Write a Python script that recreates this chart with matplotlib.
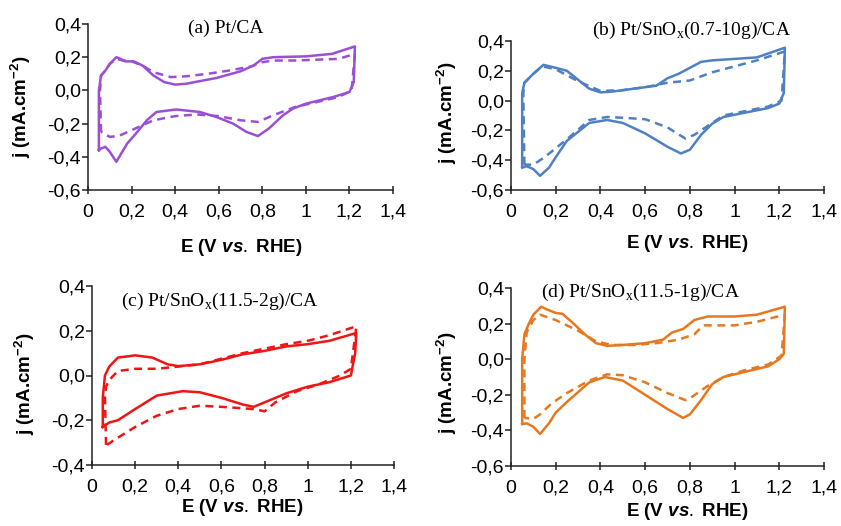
import numpy as np
import matplotlib
matplotlib.use("Agg")
import matplotlib.pyplot as plt
from matplotlib.ticker import FuncFormatter, MultipleLocator

plt.rcParams['font.family'] = 'Liberation Sans'
plt.rcParams['mathtext.fontset'] = 'custom'
plt.rcParams['mathtext.rm'] = 'Liberation Serif'
plt.rcParams['mathtext.sf'] = 'Liberation Sans:bold'
plt.rcParams['mathtext.it'] = 'Liberation Sans:italic:bold'

# (a) Pt/CA  -- anodic sweep then cathodic sweep
a_E_fwd = [0.05, 0.05, 0.06, 0.08, 0.10, 0.13, 0.15, 0.17, 0.21, 0.25, 0.30, 0.35, 0.40, 0.45, 0.59, 0.70, 0.76, 0.80, 0.85, 1.00, 1.12, 1.225]
a_j_fwd = [-0.36, 0.00, 0.09, 0.12, 0.16, 0.20, 0.19, 0.175, 0.175, 0.15, 0.09, 0.05, 0.035, 0.04, 0.075, 0.115, 0.15, 0.19, 0.20, 0.205, 0.22, 0.265]
a_E_rev = [1.225, 1.22, 1.20, 1.125, 1.00, 0.94, 0.895, 0.83, 0.78, 0.727, 0.666, 0.589, 0.513, 0.405, 0.314, 0.27, 0.22, 0.18, 0.13, 0.10, 0.08, 0.06, 0.05]
a_j_rev = [0.265, 0.05, -0.01, -0.04, -0.08, -0.11, -0.15, -0.23, -0.275, -0.25, -0.20, -0.16, -0.13, -0.115, -0.13, -0.18, -0.26, -0.32, -0.43, -0.37, -0.34, -0.35, -0.36]
a_E_fwd2 = [0.06, 0.055, 0.06, 0.08, 0.10, 0.13, 0.16, 0.20, 0.25, 0.30, 0.38, 0.45, 0.55, 0.65, 0.75, 0.80, 0.85, 0.95, 1.05, 1.15, 1.225]
a_j_fwd2 = [-0.25, 0.00, 0.09, 0.12, 0.16, 0.19, 0.18, 0.175, 0.15, 0.11, 0.08, 0.085, 0.10, 0.12, 0.145, 0.17, 0.18, 0.18, 0.185, 0.19, 0.22]
a_E_rev2 = [1.225, 1.21, 1.15, 1.05, 0.95, 0.85, 0.78, 0.70, 0.60, 0.50, 0.40, 0.30, 0.20, 0.14, 0.10, 0.07, 0.06]
a_j_rev2 = [0.22, 0.00, -0.04, -0.07, -0.10, -0.15, -0.19, -0.18, -0.155, -0.145, -0.155, -0.18, -0.24, -0.275, -0.28, -0.26, -0.25]

# (b) Pt/SnOx(0.7-10g)/CA
b_E_fwd = [0.05, 0.05, 0.06, 0.10, 0.145, 0.20, 0.25, 0.30, 0.35, 0.40, 0.45, 0.55, 0.65, 0.70, 0.75, 0.80, 0.85, 0.90, 1.00, 1.10, 1.225]
b_j_fwd = [-0.44, 0.05, 0.12, 0.18, 0.24, 0.22, 0.20, 0.14, 0.08, 0.055, 0.06, 0.08, 0.10, 0.15, 0.18, 0.22, 0.26, 0.27, 0.28, 0.29, 0.355]
b_E_rev = [1.225, 1.22, 1.20, 1.15, 1.05, 0.95, 0.90, 0.85, 0.80, 0.76, 0.70, 0.60, 0.50, 0.43, 0.35, 0.25, 0.20, 0.17, 0.13, 0.10, 0.07, 0.05]
b_j_rev = [0.355, 0.05, -0.02, -0.05, -0.08, -0.11, -0.155, -0.23, -0.33, -0.355, -0.31, -0.22, -0.15, -0.13, -0.15, -0.27, -0.38, -0.45, -0.505, -0.46, -0.44, -0.45]
b_E_fwd2 = [0.06, 0.055, 0.06, 0.10, 0.14, 0.20, 0.30, 0.40, 0.50, 0.60, 0.70, 0.80, 0.90, 1.00, 1.10, 1.225]
b_j_fwd2 = [-0.43, 0.05, 0.12, 0.18, 0.23, 0.21, 0.13, 0.065, 0.07, 0.09, 0.12, 0.135, 0.19, 0.23, 0.27, 0.33]
b_E_rev2 = [1.225, 1.21, 1.15, 1.05, 0.95, 0.88, 0.82, 0.78, 0.70, 0.60, 0.50, 0.43, 0.35, 0.25, 0.15, 0.10, 0.06]
b_j_rev2 = [0.33, 0.00, -0.04, -0.07, -0.10, -0.17, -0.23, -0.255, -0.18, -0.125, -0.115, -0.11, -0.13, -0.26, -0.38, -0.43, -0.43]

# (c) Pt/SnOx(11.5-2g)/CA
c_E_fwd = [0.05, 0.05, 0.06, 0.08, 0.12, 0.20, 0.28, 0.35, 0.40, 0.50, 0.60, 0.70, 0.80, 0.90, 1.00, 1.10, 1.225]
c_j_fwd = [-0.23, -0.10, 0.00, 0.04, 0.08, 0.09, 0.08, 0.05, 0.042, 0.05, 0.07, 0.095, 0.11, 0.13, 0.14, 0.155, 0.19]
c_E_rev = [1.225, 1.22, 1.20, 1.10, 1.00, 0.90, 0.80, 0.75, 0.70, 0.60, 0.50, 0.42, 0.30, 0.20, 0.12, 0.08, 0.05]
c_j_rev = [0.19, 0.10, 0.00, -0.03, -0.05, -0.08, -0.12, -0.14, -0.13, -0.10, -0.075, -0.07, -0.09, -0.15, -0.20, -0.21, -0.23]
c_E_fwd2 = [0.065, 0.06, 0.065, 0.08, 0.12, 0.20, 0.30, 0.40, 0.50, 0.60, 0.70, 0.80, 0.90, 1.00, 1.10, 1.225]
c_j_fwd2 = [-0.31, -0.10, -0.05, -0.02, 0.02, 0.03, 0.03, 0.04, 0.05, 0.075, 0.10, 0.12, 0.14, 0.155, 0.18, 0.22]
c_E_rev2 = [1.225, 1.20, 1.15, 1.05, 0.95, 0.85, 0.80, 0.75, 0.60, 0.50, 0.40, 0.30, 0.20, 0.10, 0.07]
c_j_rev2 = [0.215, 0.03, 0.00, -0.04, -0.07, -0.12, -0.16, -0.15, -0.14, -0.135, -0.15, -0.18, -0.23, -0.29, -0.31]

# (d) Pt/SnOx(11.5-1g)/CA
d_E_fwd = [0.05, 0.05, 0.06, 0.08, 0.10, 0.135, 0.16, 0.20, 0.23, 0.28, 0.33, 0.38, 0.43, 0.50, 0.60, 0.68, 0.72, 0.77, 0.82, 0.88, 1.00, 1.10, 1.225]
d_j_fwd = [-0.36, 0.00, 0.14, 0.20, 0.25, 0.295, 0.28, 0.26, 0.255, 0.20, 0.14, 0.09, 0.075, 0.08, 0.09, 0.11, 0.15, 0.17, 0.22, 0.24, 0.24, 0.25, 0.295]
d_E_rev = [1.225, 1.22, 1.20, 1.15, 1.05, 0.95, 0.90, 0.85, 0.80, 0.77, 0.70, 0.60, 0.50, 0.42, 0.35, 0.25, 0.20, 0.17, 0.13, 0.10, 0.07, 0.05]
d_j_rev = [0.295, 0.03, 0.00, -0.04, -0.07, -0.10, -0.14, -0.23, -0.31, -0.33, -0.28, -0.20, -0.12, -0.10, -0.13, -0.24, -0.30, -0.36, -0.42, -0.38, -0.36, -0.365]
d_E_fwd2 = [0.06, 0.06, 0.07, 0.10, 0.13, 0.20, 0.30, 0.38, 0.45, 0.55, 0.65, 0.75, 0.82, 0.86, 0.90, 1.00, 1.10, 1.225]
d_j_fwd2 = [-0.33, 0.00, 0.15, 0.22, 0.25, 0.22, 0.16, 0.10, 0.08, 0.08, 0.09, 0.11, 0.14, 0.19, 0.19, 0.19, 0.21, 0.25]
d_E_rev2 = [1.225, 1.21, 1.15, 1.05, 0.95, 0.88, 0.80, 0.78, 0.70, 0.60, 0.50, 0.43, 0.35, 0.25, 0.18, 0.13, 0.10, 0.06]
d_j_rev2 = [0.25, 0.02, -0.03, -0.06, -0.10, -0.15, -0.22, -0.23, -0.19, -0.13, -0.09, -0.085, -0.12, -0.19, -0.25, -0.31, -0.335, -0.33]

titles = ["(a) Pt/CA",
          "(b) Pt/SnO$_{\\mathrm{x}}$(0.7-10g)/CA",
          "(c) Pt/SnO$_{\\mathrm{x}}$(11.5-2g)/CA",
          "(d) Pt/SnO$_{\\mathrm{x}}$(11.5-1g)/CA"]
colors = ["#9b4fd4", "#4f81c2", "#f01414", "#e8781e"]

W, H = 841, 526
fig = plt.figure(figsize=(W / 100, H / 100), dpi=100)

def px_axes(left, top, right, bottom):
    return fig.add_axes([left / W, 1 - bottom / H, (right - left) / W, (bottom - top) / H])

def fig_xy(x, y):
    return (x / W, 1 - y / H)

xfmt = FuncFormatter(lambda v, p: ("%g" % round(v, 2)).replace(".", ","))
yfmt = FuncFormatter(lambda v, p: ("%.1f" % (v + 0.0)).replace(".", ",").replace("-0,0", "0,0"))

def draw(ax, fwd, rev, fwd2, rev2, color, title, ylim, title_xy, xlab_xy, ylab_xy):
    E1 = np.concatenate([fwd[0], rev[0]])
    j1 = np.concatenate([fwd[1], rev[1]])
    E2 = np.concatenate([fwd2[0], rev2[0]])
    j2 = np.concatenate([fwd2[1], rev2[1]])
    ax.plot(E2, j2, color=color, lw=1.8, dashes=(3.2, 2.2), solid_joinstyle="round")
    ax.plot(E1, j1, color=color, lw=1.8, solid_joinstyle="round")
    ax.set_xlim(0, 1.4)
    ax.set_ylim(*ylim)
    ax.xaxis.set_major_locator(MultipleLocator(0.2))
    ax.yaxis.set_major_locator(MultipleLocator(0.2))
    ax.xaxis.set_major_formatter(xfmt)
    ax.yaxis.set_major_formatter(yfmt)
    for s in ["top", "right"]:
        ax.spines[s].set_visible(False)
    for s in ["left", "bottom"]:
        ax.spines[s].set_linewidth(1.1)
        ax.spines[s].set_color("#222222")
    ax.tick_params(axis="x", direction="inout", length=6, width=1.1, color="#222222", labelsize=14, pad=7)
    ax.tick_params(axis="y", direction="out", length=4, width=1.1, color="#222222", labelsize=14, pad=1)
    ax.set_xlabel("E (V $\\mathit{vs.}$ RHE)", fontsize=13.5, fontweight="bold", va="center", ha="center")
    ax.set_ylabel("j (mA.cm$^{\\mathsf{-2}}$)", fontsize=13.5, fontweight="bold", va="center", ha="center")
    ax.xaxis.set_label_coords(*fig_xy(*xlab_xy), transform=fig.transFigure)
    ax.yaxis.set_label_coords(*fig_xy(*ylab_xy), transform=fig.transFigure)
    fig.text(*fig_xy(*title_xy), title, family="Liberation Serif", fontsize=14, ha="center", va="center")

ax_a = px_axes(88, 24, 393, 190)
draw(ax_a, (a_E_fwd, a_j_fwd), (a_E_rev, a_j_rev), (a_E_fwd2, a_j_fwd2), (a_E_rev2, a_j_rev2),
     colors[0], titles[0], (-0.6, 0.4), (226, 28), (241, 248), (21, 107))

ax_b = px_axes(511, 41, 824, 190)
draw(ax_b, (b_E_fwd, b_j_fwd), (b_E_rev, b_j_rev), (b_E_fwd2, b_j_fwd2), (b_E_rev2, b_j_rev2),
     colors[1], titles[1], (-0.6, 0.4), (691, 30), (687, 243), (447, 113))

ax_c = px_axes(92, 286, 394, 465)
draw(ax_c, (c_E_fwd, c_j_fwd), (c_E_rev, c_j_rev), (c_E_fwd2, c_j_fwd2), (c_E_rev2, c_j_rev2),
     colors[2], titles[2], (-0.4, 0.4), (220, 301), (242, 508), (25, 384))

ax_d = px_axes(511, 288, 824, 466)
draw(ax_d, (d_E_fwd, d_j_fwd), (d_E_rev, d_j_rev), (d_E_fwd2, d_j_fwd2), (d_E_rev2, d_j_rev2),
     colors[3], titles[3], (-0.6, 0.4), (640, 292), (687, 511), (447, 383))

fig.savefig("out.png", dpi=100)
